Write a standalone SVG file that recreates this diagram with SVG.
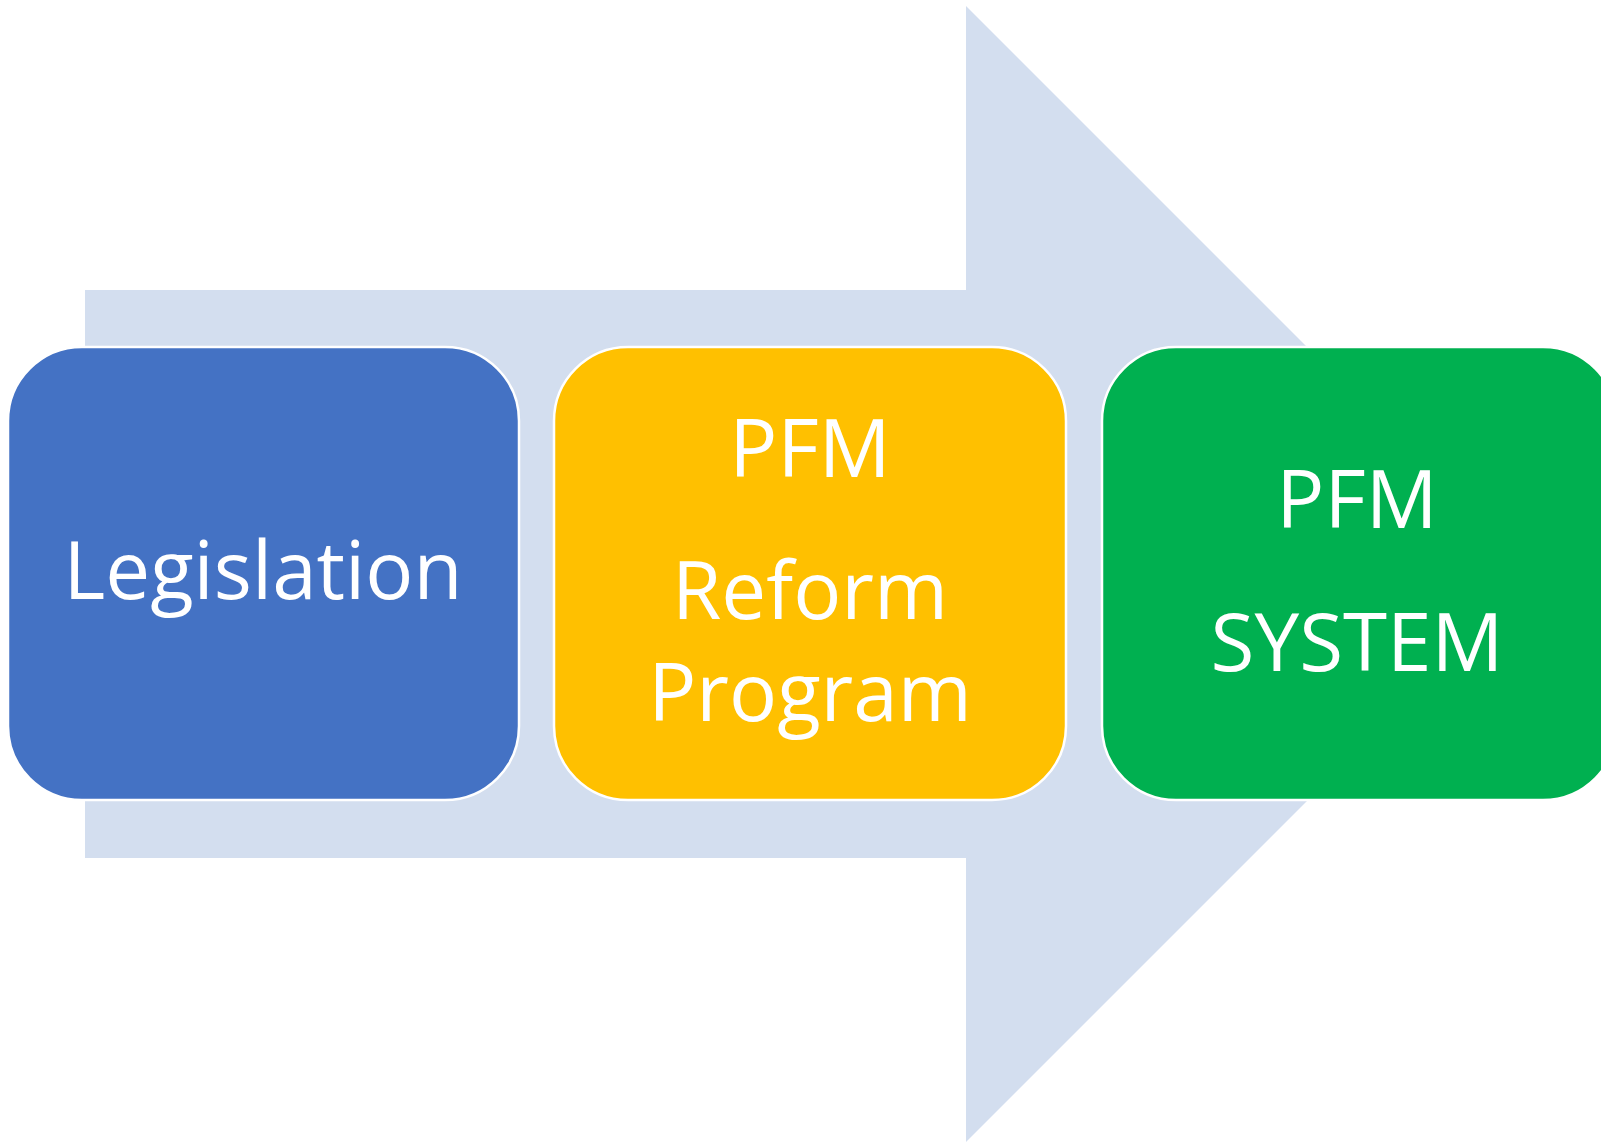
<svg xmlns="http://www.w3.org/2000/svg" width="1601" height="1142" viewBox="0 0 1601 1142">
<style>
.box{stroke:#ffffff;stroke-width:2.5}
.t{font-family:"Open Sans","Liberation Sans",sans-serif;font-size:80px;fill:#ffffff;text-anchor:middle}
</style>
<rect width="1601" height="1142" fill="#ffffff"/>
<g id="connectors">
<polygon points="85,290 966,290 966,6 1534,574 966,1142 966,858 85,858" fill="#D3DEEF"/>
</g>
<g id="legislation">
<rect class="box" x="8" y="347" width="511" height="453" rx="74" ry="74" fill="#4472C4"/>
<text class="t" x="263" y="599">Legislation</text>
</g>
<g id="reform">
<rect class="box" x="554" y="347" width="512" height="453" rx="74" ry="74" fill="#FFC000"/>
<text class="t" x="810" y="477">PFM</text>
<text class="t" x="810" y="619">Reform</text>
<text class="t" x="810" y="721">Program</text>
</g>
<g id="system">
<rect class="box" x="1102" y="347" width="515" height="453" rx="74" ry="74" fill="#00B050"/>
<text class="t" x="1357" y="528">PFM</text>
<text class="t" x="1357" y="671">SYSTEM</text>
</g>
</svg>
